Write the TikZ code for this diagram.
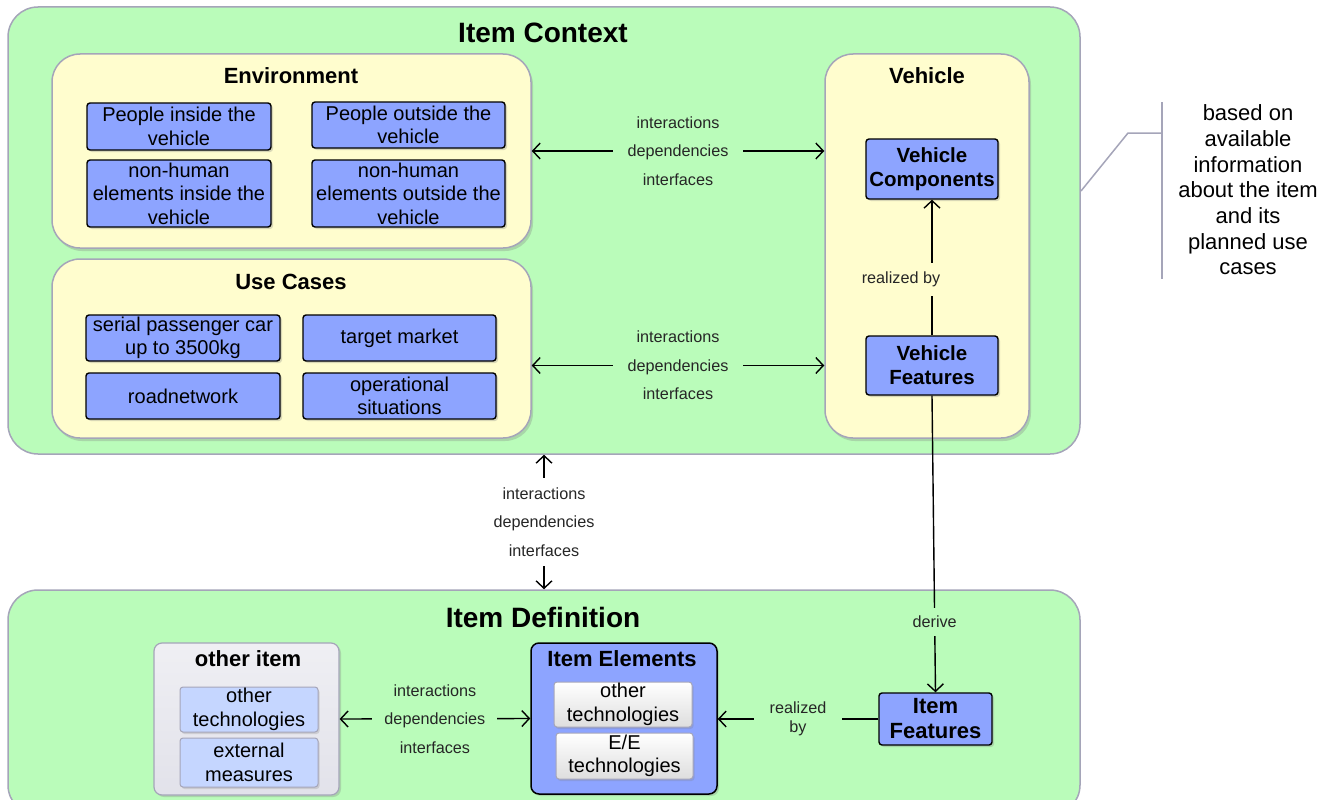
\documentclass[tikz,border=0pt]{standalone}
\usepackage{fontspec}
\setmainfont{Liberation Sans}
\usetikzlibrary{arrows.meta,shadows,positioning}

\definecolor{ctxgreen}{RGB}{186,252,186}
\definecolor{areayellow}{RGB}{255,253,206}
\definecolor{featblue}{RGB}{141,164,255}
\definecolor{techblue}{RGB}{197,214,255}
\definecolor{othergray}{RGB}{226,226,234}
\definecolor{framegray}{RGB}{165,165,185}

\begin{document}
\begin{tikzpicture}[x=1pt,y=-1pt,
		every node/.style={inner sep=0pt},
		>={Straight Barb[length=7.5pt,width=16pt]},
		ctxbox/.style={draw=framegray,line width=1.5pt,fill=ctxgreen,rounded corners=30pt},
		areabox/.style={draw=framegray,line width=1.5pt,fill=areayellow,rounded corners=28pt,
			drop shadow={shadow xshift=2pt,shadow yshift=-3pt,opacity=.3}},
		featbox/.style={draw=black,line width=1.4pt,fill=featblue,rounded corners=3pt,align=center,
			font=\fontsize{20}{23.5}\selectfont,drop shadow={shadow xshift=2pt,shadow yshift=-2pt,opacity=.3}},
		techbox/.style={draw=framegray,line width=1pt,rounded corners=3pt,align=center,
			font=\fontsize{20}{23.5}\selectfont,drop shadow={shadow xshift=1.5pt,shadow yshift=-2pt,opacity=.25}},
		title/.style={font=\fontsize{22}{24}\selectfont\bfseries},
		bigtitle/.style={font=\fontsize{28}{30}\selectfont\bfseries},
		lbl/.style={font=\fontsize{16.2}{28.5}\selectfont,text=black!85,align=center,inner xsep=15pt,inner ysep=10pt},
		conn/.style={line width=1.4pt}]
	\clip (0,0) rectangle (1336,800);
	\fill[white] (0,0) rectangle (1336,800);

	\node[ctxbox,minimum width=1072,minimum height=447] (ctx) at (544,230.5) {};
	\node[bigtitle] (ctxtitle) at (543,33) {Item Context};
	\node[ctxbox,minimum width=1072,minimum height=225] (def) at (544,702.5) {};
	\node[bigtitle] (deftitle) at (543,617) {Item Definition};

	\node[areabox,minimum width=479,minimum height=194] (env) at (291.5,151) {};
	\node[title] (envtitle) at (291,76) {Environment};
	\node[featbox,minimum width=184,minimum height=47] (pin) at (179,126.5) {People inside the\\vehicle};
	\node[featbox,minimum width=193,minimum height=46] (pout) at (408.5,125) {People outside the\\vehicle};
	\node[featbox,minimum width=184,minimum height=67] (nhin) at (179,193.5) {non-human\\elements inside the\\vehicle};
	\node[featbox,minimum width=193,minimum height=67] (nhout) at (408.5,193.5) {non-human\\elements outside the\\vehicle};

	\node[areabox,minimum width=479,minimum height=179] (uc) at (291.5,348.5) {};
	\node[title] (uctitle) at (291,282) {Use Cases};
	\node[featbox,minimum width=194,minimum height=46] (serial) at (183,338) {serial passenger car\\up to 3500kg};
	\node[featbox,minimum width=193,minimum height=46] (market) at (399.5,338) {target market};
	\node[featbox,minimum width=194,minimum height=46] (road) at (183,396) {roadnetwork};
	\node[featbox,minimum width=193,minimum height=46] (opsit) at (399.5,396) {operational\\situations};

	\node[areabox,minimum width=204,minimum height=384] (veh) at (927,246) {};
	\node[title] (vehtitle) at (927,76) {Vehicle};
	\node[featbox,font=\fontsize{20.5}{24}\selectfont\bfseries,minimum width=132,minimum height=60] (vc) at (932,169) {Vehicle\\Components};
	\node[featbox,font=\fontsize{20.5}{24}\selectfont\bfseries,minimum width=132,minimum height=59] (vf) at (932,365.5) {Vehicle\\Features};

	\node[draw=framegray,line width=1.2pt,rounded corners=8pt,top color=othergray!55,bottom color=othergray,
		minimum width=185,minimum height=152,drop shadow={shadow xshift=2pt,shadow yshift=-2pt,opacity=.3}] (other) at (246.5,719) {};
	\node[title] (othertitle) at (248,659) {other item};
	\node[techbox,fill=techblue,minimum width=138,minimum height=45] (othtech) at (249,709.5) {other\\technologies};
	\node[techbox,fill=techblue,minimum width=138,minimum height=49] (othmeas) at (249,762.5) {external\\measures};

	\node[draw=black,line width=1.5pt,fill=featblue,rounded corners=8pt,minimum width=186,minimum height=151,
		drop shadow={shadow xshift=2pt,shadow yshift=-2pt,opacity=.3}] (ie) at (624,718.5) {};
	\node[title] (ietitle) at (622,659) {Item Elements};
	\node[techbox,top color=white,bottom color=black!13,minimum width=138,minimum height=45] (ietech) at (623,704.5) {other\\technologies};
	\node[techbox,top color=white,bottom color=black!13,minimum width=137,minimum height=46] (ieee) at (624.5,756) {E/E\\technologies};

	\node[featbox,font=\fontsize{22}{25}\selectfont\bfseries,minimum width=113,minimum height=52] (itf) at (935.5,719) {Item\\Features};

	\draw[conn,<->] (env.east) -- node[lbl,fill=ctxgreen] {interactions\\dependencies\\interfaces} (env.east -| veh.west);
	\draw[conn,<->] (uc.east |- vf.west) -- node[lbl,fill=ctxgreen] {interactions\\dependencies\\interfaces} (veh.west |- vf.west);
	\draw[conn,->] (vf.north) -- node[lbl,fill=areayellow,pos=.41,xshift=-31pt,inner xsep=2pt,inner ysep=9pt] {realized by} (vc.south);
	\draw[conn,<->] (ctx.south) -- node[lbl,fill=white] {interactions\\dependencies\\interfaces} (def.north);
	\draw[conn,->] (vf.south) -- node[lbl,fill=ctxgreen,pos=.762,inner ysep=8pt] {derive} (itf.north);
	\draw[conn,<->] (other.east) -- node[lbl,fill=ctxgreen,inner xsep=12pt] {interactions\\dependencies\\interfaces} (ie.west);
	\draw[conn,->] (itf.west) -- node[lbl,fill=ctxgreen,font=\fontsize{16.2}{19.5}\selectfont,inner xsep=16pt] {realized\\by} (itf.west -| ie.east);

	\coordinate (brtop) at (1162,102);
	\coordinate (brbot) at (1162,279);
	\coordinate (brjoin) at (1162,133);
	\coordinate (brknee) at (1128,133);
	\coordinate (brfoot) at (1081,191);
	\draw[framegray,line width=1.5pt] (brtop) -- (brbot);
	\draw[framegray,line width=1.5pt] (brjoin) -- (brknee) -- (brfoot);
	\node[align=center,font=\fontsize{22}{25.7}\selectfont] (basis) at (1248,190) {based on\\available\\information\\about the item\\and its\\planned use\\cases};
\end{tikzpicture}
\end{document}
